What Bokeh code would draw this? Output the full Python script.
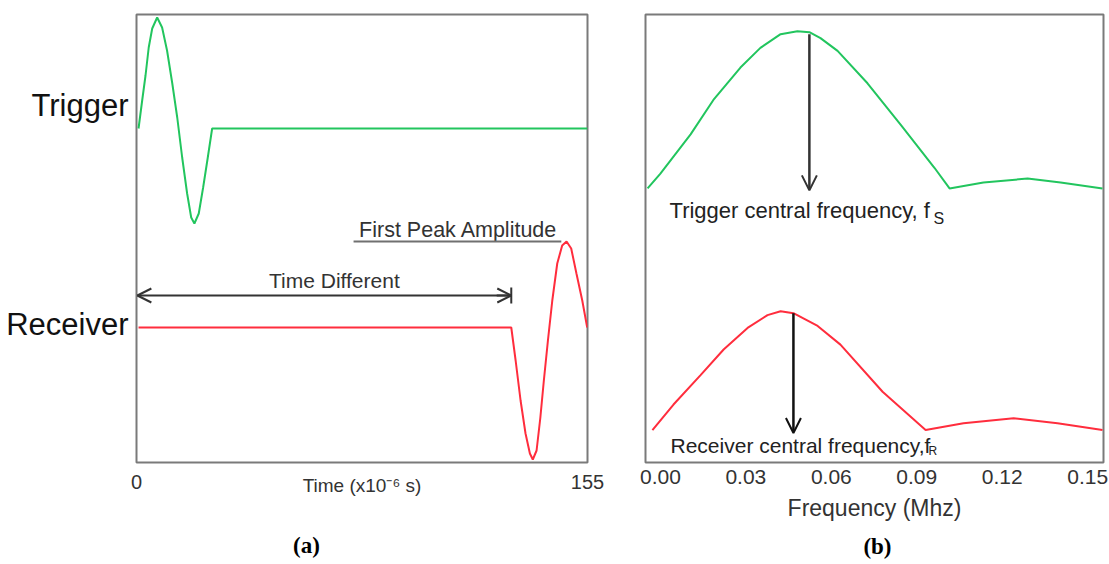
from bokeh.plotting import figure
from bokeh.models import (Range1d, FixedTicker, Label, Arrow, OpenHead, TeeHead,
                          PrintfTickFormatter, LinearAxis)
from bokeh.layouts import row
from bokeh.embed import file_html
from bokeh.resources import INLINE

# ---------------- data: panel (a) time domain ----------------
TRIG_T = [0.7, 1.95, 3.1, 4.2, 5.4, 7.1, 8.8, 10.5, 12.3, 14.0, 15.7, 17.4, 18.8,
          19.9, 21.4, 22.9, 24.5, 26.0, 155]
TRIG_A = [334, 362, 387, 415, 434, 445, 435, 412, 379, 345, 305, 269, 245,
          239, 249, 275, 305, 334, 334]
RECV_T = [0.7, 128.8, 130.3, 132.0, 133.7, 135.2, 136.2, 137.5, 138.8, 140.0, 141.4,
          142.9, 144.6, 146.3, 147.8, 149.4, 151.2, 153.2, 154.9]
RECV_A = [135, 135, 102, 62, 29, 9, 3, 12, 45, 82, 122,
          162, 199, 217, 221, 214, 189, 162, 135]
TIME_TICKS = [0, 155]
SIGNAL_TICKS = [357, 138]
SIGNAL_NAMES = ["Trigger", "Receiver"]
CAPTION_A_POS = 58.4

# ---------------- data: panel (b) frequency domain ----------------
TRIG_F = [-0.0045, 0.0000, 0.0106, 0.0186, 0.0281, 0.0351, 0.0422, 0.0481, 0.0523,
          0.0562, 0.0622, 0.0727, 0.0846, 0.0962, 0.1015, 0.1134, 0.1289, 0.1405, 0.1552]
TRIG_S = [279, 294, 334, 369, 402, 422, 436, 439, 438,
          432, 419, 386, 343, 300, 279, 285, 289, 285, 279]
RECV_F = [-0.0028, 0.0046, 0.0141, 0.0222, 0.0306, 0.0376, 0.0422, 0.0467, 0.0552,
          0.0632, 0.0780, 0.0931, 0.1064, 0.1240, 0.1394, 0.1552]
RECV_S = [33, 59, 89, 115, 137, 150, 154, 152, 139,
          120, 72, 33, 40, 45, 40, 33]
FREQ_TICKS = [0.00, 0.03, 0.06, 0.09, 0.12, 0.15]
TRIG_CENTRAL = 0.0523
RECV_CENTRAL = 0.0467
CAPTION_B_POS = 0.0762

GREEN = "#22c55e"
RED = "#ff2d3d"
FRAME = "#7a7a7a"
TXT = "#333333"
FONT = "Liberation Sans"
SERIF = "Liberation Serif"


def style_axis(ax, size, standoff):
    ax.axis_line_color = None
    ax.major_tick_line_color = None
    ax.minor_tick_line_color = None
    ax.major_tick_out = 0
    ax.major_tick_in = 0
    ax.minor_tick_out = 0
    ax.minor_tick_in = 0
    ax.major_label_text_font = FONT
    ax.major_label_text_font_size = size
    ax.major_label_text_color = TXT
    ax.major_label_standoff = standoff


def caption_axis(letter, pos, standoff):
    ax = LinearAxis(ticker=FixedTicker(ticks=[pos]))
    style_axis(ax, "23px", standoff)
    ax.major_label_overrides = {pos: "(" + letter + ")"}
    ax.major_label_text_font = SERIF
    ax.major_label_text_font_style = "bold"
    ax.major_label_text_color = "#000000"
    return ax


# ---------------- panel (a) ----------------
pa = figure(width=620, height=564, output_backend="svg", toolbar_location=None,
            x_range=Range1d(0, 155), y_range=Range1d(0, 448),
            min_border_left=136, min_border_right=33,
            min_border_top=14, min_border_bottom=102)
pa.grid.visible = False
pa.outline_line_color = FRAME
pa.outline_line_width = 2

style_axis(pa.xaxis[0], "20px", 12)
pa.xaxis.ticker = FixedTicker(ticks=TIME_TICKS)
pa.xaxis.axis_label = "Time (x10\u207b\u2076 s)"
pa.xaxis.axis_label_text_font = FONT
pa.xaxis.axis_label_text_font_size = "19px"
pa.xaxis.axis_label_text_font_style = "normal"
pa.xaxis.axis_label_text_color = TXT
pa.xaxis.axis_label_standoff = -17

style_axis(pa.yaxis[0], "31px", 8)
pa.yaxis.ticker = FixedTicker(ticks=SIGNAL_TICKS)
pa.yaxis.major_label_overrides = dict(zip(SIGNAL_TICKS, SIGNAL_NAMES))
pa.yaxis.major_label_text_color = "#111111"
pa.yaxis.major_label_text_baseline = "middle"

pa.add_layout(caption_axis("a", CAPTION_A_POS, 34), "below")

pa.line(TRIG_T, TRIG_A, line_color=GREEN, line_width=2)
pa.line(RECV_T, RECV_A, line_color=RED, line_width=2)

# first peak amplitude annotation
peak_a = max(RECV_A)
pa.add_layout(Label(x=76.5, y=232.6, text="First Peak Amplitude", text_font=FONT,
                    text_font_size="21.5px", text_color=TXT, text_baseline="middle"))
pa.add_layout(Arrow(start=None, end=None, x_start=74.6, y_start=peak_a,
                    x_end=146.0, y_end=peak_a, line_color="#707070", line_width=2))

# time difference annotation
pa.add_layout(Label(x=68.0, y=182, text="Time Different", text_font=FONT,
                    text_font_size="21px", text_color=TXT, text_align="center",
                    text_baseline="middle"))
pa.add_layout(Arrow(start=OpenHead(size=14, line_color=TXT, line_width=2),
                    end=OpenHead(size=14, line_color=TXT, line_width=2),
                    x_start=0.3, y_start=167, x_end=RECV_T[1], y_end=167,
                    line_color=TXT, line_width=2))
pa.add_layout(Arrow(start=None, end=TeeHead(size=16, line_color=TXT, line_width=2),
                    x_start=RECV_T[1] - 5, y_start=167, x_end=RECV_T[1], y_end=167,
                    line_color=TXT, line_width=2))

# ---------------- panel (b) ----------------
pb = figure(width=489, height=564, output_backend="svg", toolbar_location=None,
            x_range=Range1d(-0.00523, 0.15555), y_range=Range1d(0, 456),
            y_axis_location=None, min_border_left=25, min_border_right=6,
            min_border_top=6, min_border_bottom=102)
pb.grid.visible = False
pb.outline_line_color = FRAME
pb.outline_line_width = 2

style_axis(pb.xaxis[0], "21px", 7)
pb.xaxis.ticker = FixedTicker(ticks=FREQ_TICKS)
pb.xaxis.formatter = PrintfTickFormatter(format="%.2f")
pb.xaxis.axis_label = "Frequency (Mhz)"
pb.xaxis.axis_label_text_font = FONT
pb.xaxis.axis_label_text_font_size = "23px"
pb.xaxis.axis_label_text_font_style = "normal"
pb.xaxis.axis_label_text_color = TXT
pb.xaxis.axis_label_standoff = 8

pb.add_layout(caption_axis("b", CAPTION_B_POS, 10), "below")

pb.line(TRIG_F, TRIG_S, line_color=GREEN, line_width=2)
pb.line(RECV_F, RECV_S, line_color=RED, line_width=2)

pb.add_layout(Arrow(end=OpenHead(size=15, line_color=TXT, line_width=2),
                    x_start=TRIG_CENTRAL, y_start=436, x_end=TRIG_CENTRAL, y_end=277,
                    line_color=TXT, line_width=2.5))
pb.add_layout(Arrow(end=OpenHead(size=15, line_color="#111111", line_width=2),
                    x_start=RECV_CENTRAL, y_start=152, x_end=RECV_CENTRAL, y_end=30,
                    line_color="#111111", line_width=2.5))

pb.add_layout(Label(x=0.0032, y=256.3, text="Trigger central frequency, f", text_font=FONT,
                    text_font_size="22px", text_color="#222222", text_baseline="middle"))
pb.add_layout(Label(x=0.0959, y=248.3, text="S", text_font=FONT, text_font_size="16px",
                    text_color="#222222", text_baseline="middle"))
pb.add_layout(Label(x=0.00355, y=17, text="Receiver central frequency,f", text_font=FONT,
                    text_font_size="21px", text_color="#222222", text_baseline="middle"))
pb.add_layout(Label(x=0.0941, y=12, text="R", text_font=FONT, text_font_size="12px",
                    text_color="#222222", text_baseline="middle"))

layout = row(pa, pb)
open("out.html", "w").write(file_html(layout, INLINE))
